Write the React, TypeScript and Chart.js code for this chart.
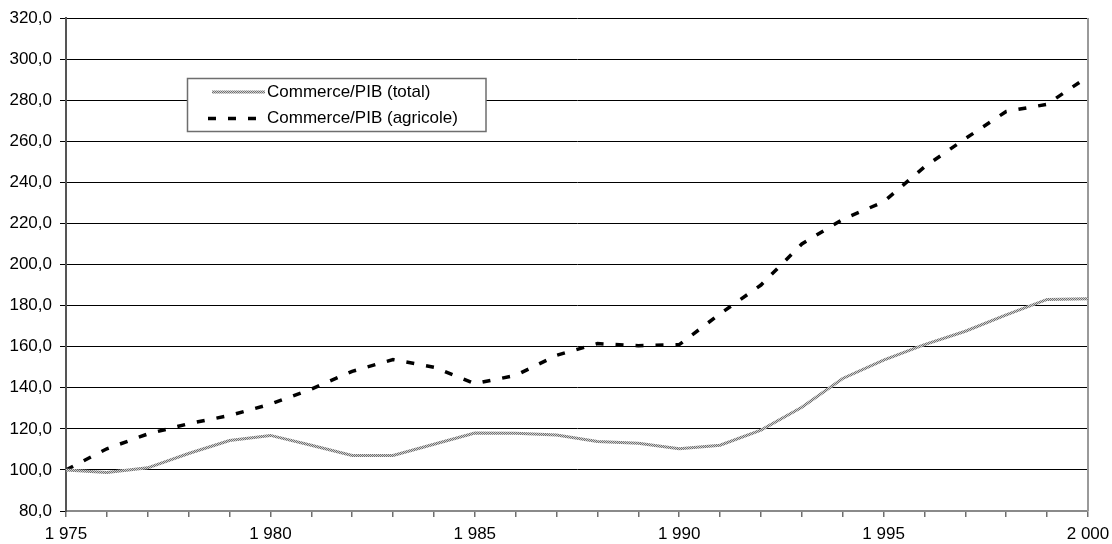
import React, { useEffect, useRef } from "react";
import { Chart, registerables } from "chart.js";

Chart.register(...registerables);

const years = [
  1975, 1976, 1977, 1978, 1979, 1980, 1981, 1982, 1983, 1984, 1985, 1986, 1987,
  1988, 1989, 1990, 1991, 1992, 1993, 1994, 1995, 1996, 1997, 1998, 1999, 2000,
];

const totalValues = [
  100, 98.8, 101, 108, 114.3, 116.8, 112, 107, 107, 112.5, 118, 117.8, 117,
  113.8, 113, 110.3, 112, 119.4, 130.5, 144.5, 153.5, 161, 167.5, 175.5, 183, 183.3,
];

const agricoleValues = [
  100, 110.3, 117.5, 122.5, 126.5, 132, 139.3, 148, 153.7, 150, 142, 146, 155.8,
  161.5, 160.5, 161, 176, 190, 210, 222, 230.5, 247.5, 261.3, 274.5, 278, 291.5,
];

const seriesLabels = ["Commerce/PIB (total)", "Commerce/PIB (agricole)"];

const yMin = 80;
const yMax = 320;
const yStep = 20;
const xLabelEvery = 5;

const FONT_FAMILY = "'Liberation Sans', Arial, sans-serif";
const FONT_SIZE = 17;

function makeHatchPattern(): CanvasPattern | string {
  const c = document.createElement("canvas");
  c.width = 2;
  c.height = 2;
  const g = c.getContext("2d");
  if (!g) return "#aaaaaa";
  g.fillStyle = "#d0d0d0";
  g.fillRect(0, 0, 2, 2);
  g.fillStyle = "#707070";
  g.fillRect(0, 0, 1, 1);
  g.fillRect(1, 1, 1, 1);
  const p = g.createPattern(c, "repeat");
  return p || "#aaaaaa";
}

function formatYear(v: number): string {
  return String(v).replace(/\B(?=(\d{3})+(?!\d))/g, " ");
}

function formatValue(v: number): string {
  return v.toFixed(1).replace(".", ",");
}

const frameAndLegendPlugin = {
  id: "frameAndLegend",
  beforeDatasetsDraw(chart: any) {
    const { ctx, chartArea } = chart;
    ctx.save();
    ctx.strokeStyle = "#9a9a9a";
    ctx.lineWidth = 2;
    ctx.beginPath();
    ctx.moveTo(chartArea.right, chartArea.top);
    ctx.lineTo(chartArea.right, chartArea.bottom);
    ctx.stroke();
    ctx.restore();
  },
  afterDraw(chart: any) {
    const { ctx } = chart;
    const left = 187.5;
    const top = 78.5;
    const width = 298.5;
    const height = 53;
    ctx.save();
    ctx.fillStyle = "#ffffff";
    ctx.fillRect(left, top, width, height);
    ctx.strokeStyle = "#6e6e6e";
    ctx.lineWidth = 1.5;
    ctx.strokeRect(left, top, width, height);

    const rows = [92, 118.5];
    chart.data.datasets.forEach((ds: any, i: number) => {
      const y = rows[i];
      ctx.save();
      ctx.strokeStyle = ds.borderColor;
      ctx.lineWidth = ds.borderWidth;
      ctx.setLineDash(ds.borderDash || []);
      ctx.lineCap = "butt";
      ctx.beginPath();
      if (ds.borderDash && ds.borderDash.length) {
        ctx.moveTo(208, y);
        ctx.lineTo(258, y);
      } else {
        ctx.moveTo(212, y);
        ctx.lineTo(265, y);
      }
      ctx.stroke();
      ctx.restore();

      ctx.fillStyle = "#000000";
      ctx.font = `${FONT_SIZE}px ${FONT_FAMILY}`;
      ctx.textBaseline = "middle";
      ctx.textAlign = "left";
      ctx.fillText(ds.label, 267, y);
    });
    ctx.restore();
  },
};

export default function App() {
  const canvasRef = useRef<HTMLCanvasElement | null>(null);

  useEffect(() => {
    const canvas = canvasRef.current;
    if (!canvas) return;
    const hatch = makeHatchPattern();

    const chart = new Chart(canvas, {
      type: "line",
      data: {
        datasets: [
          {
            label: seriesLabels[0],
            data: years.map((x, i) => ({ x, y: totalValues[i] })),
            borderColor: hatch as any,
            backgroundColor: "transparent",
            borderWidth: 3,
            pointRadius: 0,
            tension: 0,
            fill: false,
          },
          {
            label: seriesLabels[1],
            data: years.map((x, i) => ({ x, y: agricoleValues[i] })),
            borderColor: "#000000",
            backgroundColor: "transparent",
            borderWidth: 3.5,
            borderDash: [8, 12],
            pointRadius: 0,
            tension: 0,
            fill: false,
          },
        ],
      },
      options: {
        animation: false,
        responsive: true,
        maintainAspectRatio: false,
        layout: { padding: { top: 18, right: 24, left: 0, bottom: 0 } },
        plugins: {
          legend: { display: false },
          tooltip: { enabled: false },
          title: { display: false },
        },
        scales: {
          x: {
            type: "linear",
            min: years[0],
            max: years[years.length - 1],
            afterFit: (scale: any) => {
              scale.height = 33;
              scale.paddingLeft = 0;
              scale.paddingRight = 0;
            },
            ticks: {
              stepSize: 1,
              autoSkip: false,
              maxRotation: 0,
              padding: 7,
              color: "#000000",
              font: { family: FONT_FAMILY, size: FONT_SIZE },
              callback: (v: any) =>
                Number(v) % xLabelEvery === 0 ? formatYear(Number(v)) : "",
            },
            grid: {
              display: true,
              drawOnChartArea: false,
              drawTicks: true,
              tickLength: 6,
              color: "#6e6e6e",
              lineWidth: 1.5,
            },
            border: { display: true, color: "#8a8a8a", width: 2 },
          },
          y: {
            type: "linear",
            min: yMin,
            max: yMax,
            afterFit: (scale: any) => {
              scale.width = 66;
              scale.paddingTop = 0;
              scale.paddingBottom = 0;
            },
            ticks: {
              stepSize: yStep,
              padding: 8,
              color: "#000000",
              font: { family: FONT_FAMILY, size: FONT_SIZE },
              callback: (v: any) => formatValue(Number(v)),
            },
            grid: {
              display: true,
              drawOnChartArea: true,
              drawTicks: true,
              tickLength: 6,
              color: "#000000",
              lineWidth: 1,
            },
            border: { display: true, color: "#555555", width: 2 },
          },
        },
      },
      plugins: [frameAndLegendPlugin],
    });

    return () => {
      chart.destroy();
    };
  }, []);

  return (
    <div
      style={{
        position: "absolute",
        left: 0,
        top: 0,
        width: 1112,
        height: 544,
        background: "#ffffff",
      }}
    >
      <canvas ref={canvasRef} />
    </div>
  );
}
